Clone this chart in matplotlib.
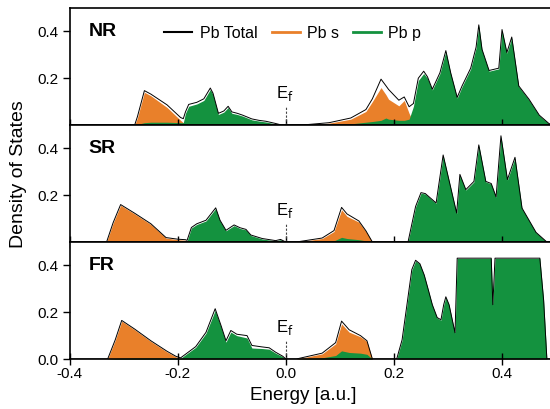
import matplotlib
matplotlib.use('Agg')
import matplotlib.pyplot as plt
from matplotlib.lines import Line2D

plt.rcParams['font.family'] = ['Liberation Sans', 'DejaVu Sans']

# NR panel
e_nr = [-0.40, -0.280, -0.275, -0.262, -0.250, -0.220, -0.195, -0.190, -0.186, -0.180, -0.165,
        -0.152, -0.140, -0.135, -0.125, -0.115, -0.107, -0.100, -0.090, -0.080, -0.063, -0.050,
        -0.037, -0.020, -0.008, 0.000, 0.040, 0.080, 0.120, 0.148, 0.160, 0.176, 0.185, 0.190,
        0.209, 0.219, 0.228, 0.236, 0.245, 0.255, 0.262, 0.271, 0.285, 0.296, 0.305, 0.317,
        0.326, 0.342, 0.352, 0.357, 0.363, 0.376, 0.394, 0.400, 0.409, 0.418, 0.431, 0.450,
        0.469, 0.487, 0.500]
s_nr = [0, 0, 0.030, 0.140, 0.125, 0.075, 0.020, 0.010, 0.005, 0.005, 0.005,
        0.004, 0.003, 0.003, 0.002, 0.002, 0.002, 0.002, 0.001, 0.001, 0.001, 0.001,
        0, 0, 0, 0, 0.001, 0.008, 0.025, 0.058, 0.100, 0.160, 0.130, 0.110,
        0.082, 0.105, 0.050, 0.010, 0.005, 0.004, 0.003, 0.003, 0.002, 0.002, 0.002, 0.002,
        0.002, 0.001, 0.001, 0.001, 0.001, 0.001, 0.001, 0.001, 0.001, 0, 0, 0,
        0, 0, 0]
p_nr = [0, 0, 0.003, 0.010, 0.012, 0.012, 0.010, 0.010, 0.050, 0.080, 0.090,
        0.105, 0.152, 0.130, 0.045, 0.055, 0.075, 0.050, 0.045, 0.038, 0.022, 0.017,
        0.013, 0.005, 0, 0, 0, 0.002, 0.005, 0.012, 0.015, 0.020, 0.030, 0.025,
        0.020, 0.020, 0.025, 0.080, 0.190, 0.220, 0.200, 0.150, 0.220, 0.315, 0.220, 0.115,
        0.164, 0.240, 0.330, 0.425, 0.320, 0.230, 0.240, 0.405, 0.307, 0.373, 0.164, 0.107,
        0.040, 0.005, 0]
t_nr = [0, 0, 0.035, 0.147, 0.132, 0.086, 0.032, 0.027, 0.056, 0.088, 0.097,
        0.112, 0.158, 0.136, 0.050, 0.060, 0.080, 0.056, 0.050, 0.042, 0.026, 0.020,
        0.016, 0.007, 0, 0, 0.002, 0.010, 0.030, 0.066, 0.112, 0.196, 0.168, 0.152,
        0.106, 0.120, 0.078, 0.092, 0.200, 0.230, 0.206, 0.153, 0.223, 0.318, 0.223, 0.118,
        0.167, 0.243, 0.333, 0.428, 0.323, 0.233, 0.243, 0.408, 0.310, 0.376, 0.167, 0.110,
        0.042, 0.006, 0]

# SR panel
e_sr = [-0.40, -0.332, -0.320, -0.306, -0.280, -0.250, -0.222, -0.200, -0.186, -0.183, -0.175,
        -0.165, -0.148, -0.130, -0.122, -0.111, -0.096, -0.085, -0.074, -0.065, -0.044, -0.019,
        -0.010, 0.000, 0.019, 0.067, 0.089, 0.103, 0.113, 0.135, 0.148, 0.160, 0.226, 0.240,
        0.250, 0.258, 0.278, 0.291, 0.316, 0.322, 0.333, 0.348, 0.357, 0.370, 0.380, 0.389,
        0.398, 0.410, 0.424, 0.437, 0.463, 0.483, 0.500]
s_sr = [0, 0, 0.080, 0.157, 0.120, 0.075, 0.017, 0.010, 0.008, 0.001, 0.001,
        0.001, 0.001, 0.001, 0.001, 0.001, 0.001, 0, 0, 0, 0, 0,
        0, 0, 0, 0.015, 0.045, 0.138, 0.110, 0.085, 0.045, 0, 0, 0.002,
        0.002, 0.002, 0.002, 0.002, 0.002, 0.002, 0.002, 0.002, 0.001, 0.001, 0.001, 0.001,
        0.001, 0.001, 0.001, 0, 0, 0, 0]
p_sr = [0, 0, 0.001, 0.003, 0.003, 0.003, 0.002, 0.002, 0.002, 0.005, 0.060,
        0.075, 0.090, 0.143, 0.090, 0.048, 0.070, 0.058, 0.052, 0.028, 0.013, 0.005,
        0.010, 0, 0, 0.002, 0.005, 0.020, 0.015, 0.010, 0.005, 0, 0, 0.150,
        0.209, 0.205, 0.165, 0.370, 0.122, 0.287, 0.222, 0.257, 0.413, 0.257, 0.248, 0.191,
        0.452, 0.265, 0.360, 0.143, 0.040, 0, 0]
t_sr = [0, 0, 0.082, 0.160, 0.123, 0.078, 0.019, 0.012, 0.010, 0.007, 0.062,
        0.078, 0.093, 0.146, 0.093, 0.050, 0.073, 0.061, 0.054, 0.030, 0.015, 0.006,
        0.011, 0, 0, 0.017, 0.049, 0.148, 0.120, 0.090, 0.048, 0, 0, 0.152,
        0.211, 0.207, 0.167, 0.372, 0.124, 0.289, 0.224, 0.259, 0.415, 0.259, 0.250, 0.193,
        0.454, 0.267, 0.362, 0.145, 0.041, 0, 0]

# FR panel
e_fr = [-0.40, -0.330, -0.316, -0.304, -0.280, -0.250, -0.220, -0.204, -0.195, -0.185, -0.167,
        -0.148, -0.131, -0.120, -0.111, -0.102, -0.091, -0.072, -0.063, -0.045, -0.031, -0.019,
        -0.006, 0.000, 0.019, 0.067, 0.092, 0.103, 0.117, 0.138, 0.150, 0.160, 0.205, 0.215,
        0.224, 0.233, 0.240, 0.248, 0.256, 0.264, 0.271, 0.280, 0.287, 0.292, 0.296, 0.302,
        0.313, 0.317, 0.380, 0.383, 0.387, 0.470, 0.477, 0.483, 0.500]
s_fr = [0, 0, 0.080, 0.162, 0.125, 0.075, 0.030, 0.010, 0.002, 0.002, 0.002,
        0.002, 0.002, 0.001, 0.001, 0.001, 0.001, 0.001, 0, 0, 0, 0,
        0, 0, 0, 0.022, 0.065, 0.150, 0.115, 0.095, 0.075, 0, 0, 0.002,
        0.002, 0.002, 0.002, 0.002, 0.002, 0.002, 0.002, 0.002, 0.002, 0.002, 0.002, 0.002,
        0.002, 0.002, 0.002, 0.002, 0.002, 0.001, 0.001, 0, 0]
p_fr = [0, 0, 0.002, 0.003, 0.004, 0.004, 0.004, 0.003, 0.003, 0.020, 0.050,
        0.110, 0.208, 0.136, 0.072, 0.115, 0.100, 0.090, 0.047, 0.045, 0.042, 0.025,
        0.010, 0, 0, 0.005, 0.015, 0.035, 0.028, 0.025, 0.020, 0, 0, 0.080,
        0.230, 0.380, 0.420, 0.405, 0.357, 0.290, 0.230, 0.175, 0.166, 0.230, 0.264, 0.230,
        0.110, 0.430, 0.430, 0.230, 0.430, 0.430, 0.250, 0, 0]
t_fr = [0, 0, 0.082, 0.165, 0.128, 0.078, 0.033, 0.012, 0.005, 0.022, 0.053,
        0.114, 0.215, 0.142, 0.078, 0.122, 0.106, 0.100, 0.058, 0.052, 0.048, 0.029,
        0.012, 0, 0, 0.025, 0.070, 0.162, 0.125, 0.100, 0.078, 0, 0, 0.082,
        0.232, 0.382, 0.422, 0.407, 0.359, 0.292, 0.232, 0.177, 0.168, 0.232, 0.266, 0.232,
        0.112, 0.431, 0.431, 0.232, 0.431, 0.431, 0.252, 0, 0]

panels = ['NR', 'SR', 'FR']
energies = [e_nr, e_sr, e_fr]
s_vals = [s_nr, s_sr, s_fr]
p_vals = [p_nr, p_sr, p_fr]
t_vals = [t_nr, t_sr, t_fr]

orange = '#E9802A'
green = '#14923F'

fig = plt.figure(figsize=(5.5, 4.09), dpi=100)
left, right, bottom, top = 0.127, 1.011, 0.1222, 0.9804
h = (top - bottom) / 3

for i in range(3):
    ax = fig.add_axes([left, top - (i + 1) * h, right - left, h])
    e = energies[i]
    ax.fill_between(e, 0, s_vals[i], color=orange, lw=0)
    ax.fill_between(e, 0, p_vals[i], color=green, lw=0)
    ax.plot(e, t_vals[i], color='black', lw=0.7)
    ax.plot([0, 0], [0, 0.075], color='#444444', lw=0.8, ls=(0, (2, 1.5)))
    ax.text(-0.003, 0.092, r'E$_\mathrm{f}$', fontsize=12, ha='center', va='bottom')
    ax.text(-0.365, 0.4, panels[i], fontsize=14, fontweight='bold', va='center', ha='left')
    ax.set_xlim(-0.4, 0.5)
    ax.set_ylim(0, 0.5)
    ax.set_xticks([-0.4, -0.2, 0.0, 0.2, 0.4])
    if i < 2:
        ax.set_yticks([0.2, 0.4])
        ax.set_xticklabels([])
    else:
        ax.set_yticks([0.0, 0.2, 0.4])
        ax.set_xticklabels(['-0.4', '-0.2', '0.0', '0.2', '0.4'])
    ax.tick_params(axis='y', direction='out', length=5, width=1, labelsize=11)
    ax.tick_params(axis='x', direction='inout', length=8, width=1, labelsize=11, pad=2)
    for sp in ax.spines.values():
        sp.set_linewidth(1.2)
    if i == 0:
        handles = [Line2D([], [], color='black', lw=1.5),
                   Line2D([], [], color=orange, lw=2),
                   Line2D([], [], color=green, lw=2)]
        ax.legend(handles, ['Pb Total', 'Pb s', 'Pb p'], loc='center left',
                  bbox_to_anchor=(0.165, 0.785), ncol=3, frameon=False, fontsize=11.5,
                  handlelength=1.75, columnspacing=0.9, handletextpad=0.45)

fig.text(0.033, 0.575, 'Density of States', rotation=90, ha='center', va='center', fontsize=14)
fig.text(0.551, 0.034, 'Energy [a.u.]', ha='center', va='center', fontsize=13.5)

fig.savefig('out.png', dpi=100)
